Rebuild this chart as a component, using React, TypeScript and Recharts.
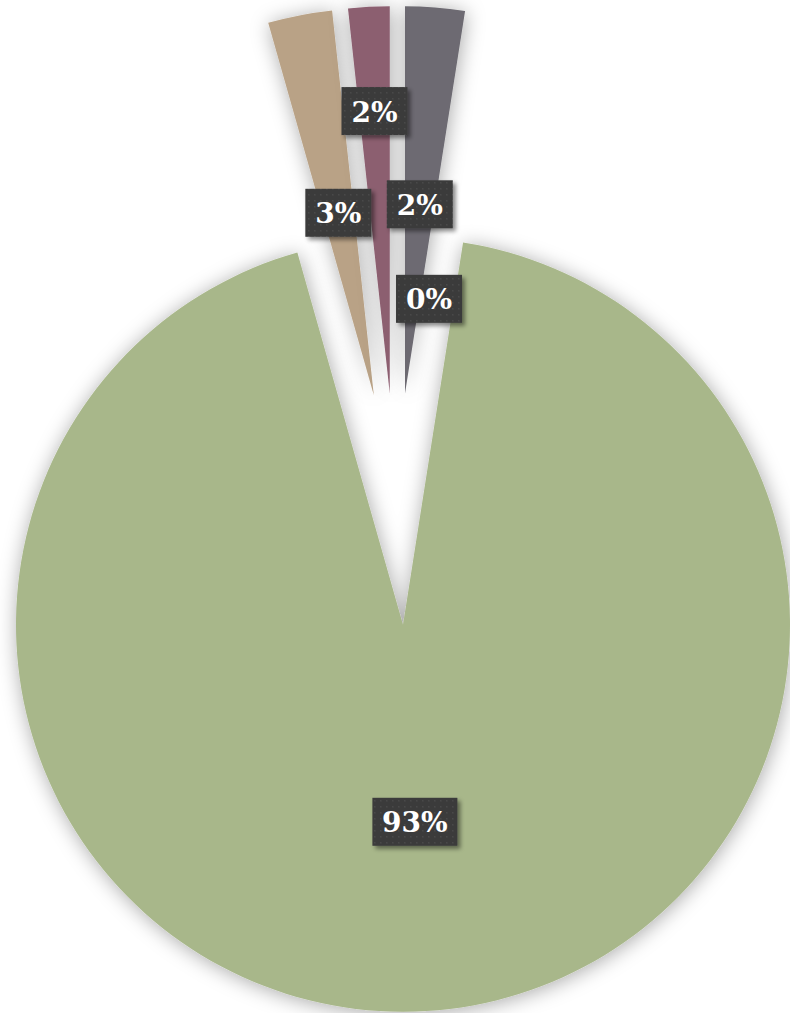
import { PieChart, Pie, Cell, Sector } from 'recharts'

// slices clockwise from 12 o'clock
const names = ['Gray', 'Other', 'Green', 'Tan', 'Mauve']
const values = [2.48, 0, 93.12, 2.68, 1.72]
const colors = ['#6d6b72', '#6d6b72', '#a8b78a', '#b9a286', '#8c5e70']

const data = names.map((name, i) => ({ name, value: values[i] }))

const RAD = Math.PI / 180
const EXPLODE = 116
// where each label sits along its slice, as a share of the radius
const labelDist = [0.49, 0.25, 0.51, 0.48, 0.73]

function ExplodedSector(props: any) {
  const { cx, cy, midAngle, startAngle, endAngle } = props
  if (startAngle === endAngle) return null
  const dx = EXPLODE * Math.cos(-midAngle * RAD)
  const dy = EXPLODE * Math.sin(-midAngle * RAD)
  return <Sector {...props} cx={cx + dx} cy={cy + dy} stroke="none" filter="url(#sliceShadow)" />
}

function BoxLabel(props: any) {
  const { cx, cy, midAngle, outerRadius, percent, index } = props
  const r = EXPLODE + outerRadius * labelDist[index]
  const x = cx + r * Math.cos(-midAngle * RAD)
  const y = cy + r * Math.sin(-midAngle * RAD)
  const text = `${Math.round(percent * 100)}%`
  const w = 20 + (text.length - 1) * 19 + 27
  const h = 48
  return (
    <g>
      <rect
        x={x - w / 2}
        y={y - h / 2}
        width={w}
        height={h}
        fill="url(#dots)"
        filter="url(#boxShadow)"
      />
      <text
        x={x}
        y={y + 1}
        textAnchor="middle"
        dominantBaseline="central"
        fill="#ffffff"
        fontFamily="'DejaVu Serif', serif"
        fontWeight="bold"
        fontSize={28}
      >
        {text}
      </text>
    </g>
  )
}

export default function App() {
  return (
    <div style={{ position: 'absolute', left: 0, top: 0, width: 790, height: 1013, background: '#fff' }}>
      <svg width={0} height={0} style={{ position: 'absolute' }}>
        <defs>
          <filter id="sliceShadow" filterUnits="userSpaceOnUse" x={-200} y={-200} width={1200} height={1400}>
            <feDropShadow dx={1} dy={2} stdDeviation={10} floodColor="#000" floodOpacity={0.34} />
          </filter>
          <filter id="boxShadow" x="-30%" y="-30%" width="170%" height="170%">
            <feDropShadow dx={3} dy={3} stdDeviation={2} floodColor="#000" floodOpacity={0.45} />
          </filter>
          <pattern id="dots" width={6} height={6} patternUnits="userSpaceOnUse">
            <rect width={6} height={6} fill="#3b3b3b" />
            <rect x={2} y={2} width={1.5} height={1.5} fill="#4a4a4a" />
          </pattern>
        </defs>
      </svg>
      <PieChart width={790} height={1013} margin={{ top: 0, right: 0, bottom: 0, left: 0 }}>
        <Pie
          data={data}
          dataKey="value"
          nameKey="name"
          cx={396}
          cy={509}
          outerRadius={387}
          startAngle={90}
          endAngle={-270}
          stroke="none"
          shape={ExplodedSector}
          label={BoxLabel}
          labelLine={false}
          isAnimationActive={false}
        >
          {data.map((d, i) => (
            <Cell key={d.name} fill={colors[i]} />
          ))}
        </Pie>
      </PieChart>
    </div>
  )
}
